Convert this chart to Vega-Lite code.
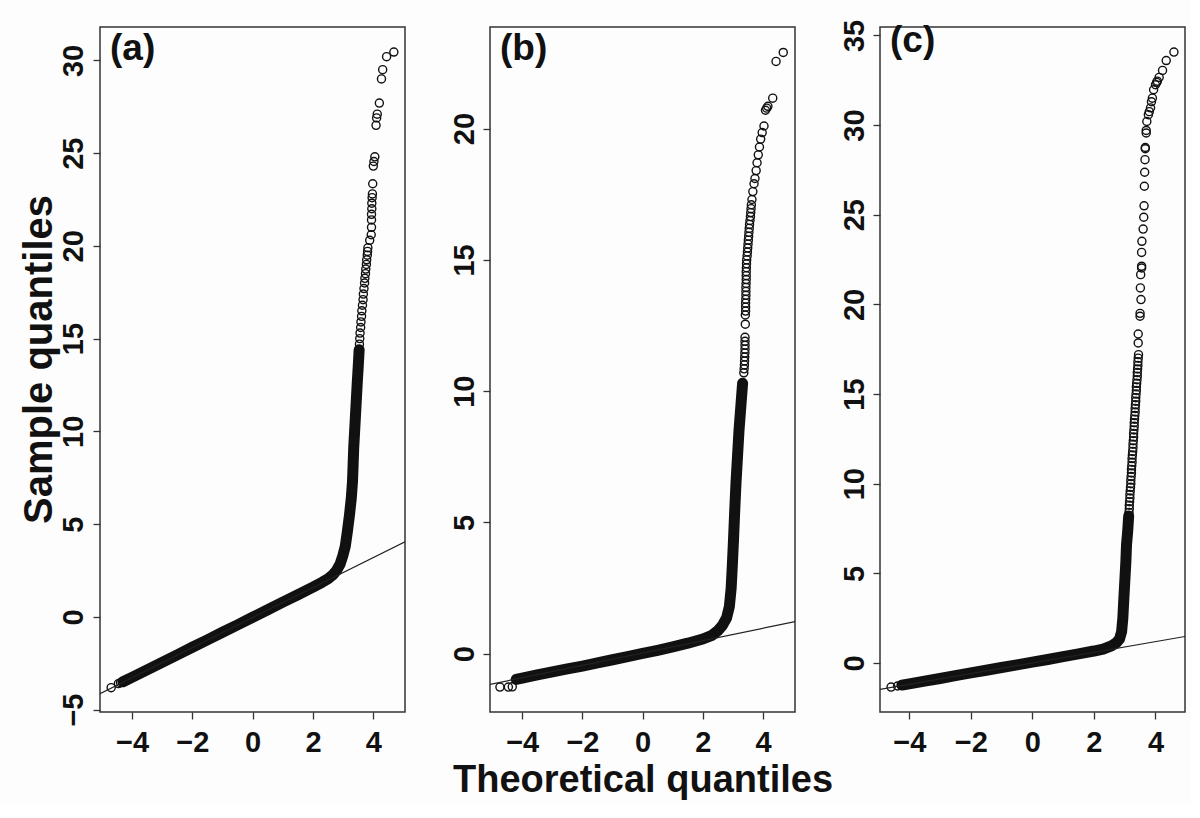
{
  "$schema": "https://vega.github.io/schema/vega-lite/v6.json",
  "background": "#fdfdfd",
  "padding": {"left": 18, "top": 18, "right": 5, "bottom": 5},
  "spacing": 85,
  "bounds": "flush",
  "config": {
    "view": {"stroke": "#333", "strokeWidth": 1.5},
    "axis": {
      "grid": false, "domain": false, "tickColor": "#333", "tickSize": 7, "tickWidth": 1.3,
      "labelFont": "Liberation Sans", "labelFontWeight": "bold", "labelFontSize": 29, "labelColor": "#111",
      "labelOverlap": false, "labelFlush": false,
      "titleFont": "Liberation Sans", "titleFontWeight": "bold", "titleColor": "#111"
    },
    "title": {"anchor": "start", "frame": "group", "offset": -41, "baseline": "alphabetic", "dx": 10, "fontSize": 37, "fontWeight": "bold", "font": "Liberation Sans", "color": "#111"}
  },
  "datasets": {
    "a": [
      {"x":-4.69,"y":-3.82,"b":0},{"x":-4.45,"y":-3.6,"b":0},{"x":-4.38,"y":-3.55,"b":0},
      {"x":-4.3,"y":-3.5,"b":1},{"x":-4.0,"y":-3.26,"b":1},{"x":-3.5,"y":-2.86,"b":1},{"x":-3.0,"y":-2.45,"b":1},{"x":-2.5,"y":-2.05,"b":1},{"x":-2.0,"y":-1.64,"b":1},{"x":-1.5,"y":-1.24,"b":1},{"x":-1.0,"y":-0.83,"b":1},{"x":-0.5,"y":-0.43,"b":1},{"x":0,"y":-0.02,"b":1},{"x":0.5,"y":0.38,"b":1},{"x":1.0,"y":0.79,"b":1},{"x":1.5,"y":1.19,"b":1},{"x":2.0,"y":1.6,"b":1},{"x":2.3,"y":1.86,"b":1},{"x":2.5,"y":2.05,"b":1},{"x":2.65,"y":2.25,"b":1},{"x":2.78,"y":2.5,"b":1},{"x":2.9,"y":2.85,"b":1},{"x":2.99,"y":3.3,"b":1},{"x":3.07,"y":3.8,"b":1},{"x":3.14,"y":4.6,"b":1},{"x":3.21,"y":5.5,"b":1},{"x":3.27,"y":6.4,"b":1},{"x":3.31,"y":7.3,"b":1},{"x":3.33,"y":8.2,"b":1},{"x":3.35,"y":9.1,"b":1},{"x":3.38,"y":10.0,"b":1},{"x":3.41,"y":10.9,"b":1},{"x":3.44,"y":11.8,"b":1},{"x":3.47,"y":12.7,"b":1},{"x":3.5,"y":13.5,"b":1},{"x":3.53,"y":14.4,"b":1},
      {"x":3.54,"y":14.7,"b":0},{"x":3.55,"y":15.0,"b":0},{"x":3.56,"y":15.3,"b":0},{"x":3.58,"y":15.6,"b":0},{"x":3.59,"y":15.9,"b":0},{"x":3.61,"y":16.2,"b":0},{"x":3.62,"y":16.5,"b":0},{"x":3.64,"y":16.8,"b":0},{"x":3.66,"y":17.1,"b":0},{"x":3.67,"y":17.4,"b":0},{"x":3.69,"y":17.7,"b":0},{"x":3.71,"y":18.0,"b":0},{"x":3.72,"y":18.25,"b":0},{"x":3.74,"y":18.5,"b":0},{"x":3.75,"y":18.75,"b":0},{"x":3.77,"y":19.0,"b":0},{"x":3.78,"y":19.25,"b":0},{"x":3.8,"y":19.5,"b":0},{"x":3.81,"y":19.7,"b":0},{"x":3.82,"y":19.9,"b":0},{"x":3.88,"y":20.3,"b":0},{"x":3.93,"y":20.6,"b":0},{"x":3.94,"y":21.0,"b":0},{"x":3.94,"y":21.4,"b":0},{"x":3.94,"y":21.7,"b":0},{"x":3.95,"y":22.0,"b":0},{"x":3.95,"y":22.3,"b":0},{"x":3.96,"y":22.6,"b":0},{"x":3.97,"y":22.8,"b":0},{"x":3.98,"y":23.35,"b":0},{"x":4.0,"y":24.3,"b":0},{"x":4.02,"y":24.55,"b":0},{"x":4.05,"y":24.8,"b":0},{"x":4.09,"y":26.5,"b":0},{"x":4.11,"y":26.9,"b":0},{"x":4.13,"y":27.1,"b":0},{"x":4.2,"y":27.7,"b":0},{"x":4.27,"y":29.0,"b":0},{"x":4.31,"y":29.5,"b":0},{"x":4.44,"y":30.2,"b":0},{"x":4.68,"y":30.45,"b":0}
    ],
    "b": [
      {"x":-4.74,"y":-1.27,"b":0},{"x":-4.46,"y":-1.27,"b":0},{"x":-4.33,"y":-1.26,"b":0},
      {"x":-4.2,"y":-0.98,"b":1},{"x":-4.0,"y":-0.93,"b":1},{"x":-3.5,"y":-0.81,"b":1},{"x":-3.0,"y":-0.69,"b":1},{"x":-2.5,"y":-0.58,"b":1},{"x":-2.0,"y":-0.47,"b":1},{"x":-1.5,"y":-0.35,"b":1},{"x":-1.0,"y":-0.23,"b":1},{"x":-0.5,"y":-0.11,"b":1},{"x":0,"y":0.01,"b":1},{"x":0.5,"y":0.13,"b":1},{"x":1.0,"y":0.26,"b":1},{"x":1.5,"y":0.4,"b":1},{"x":2.0,"y":0.56,"b":1},{"x":2.3,"y":0.7,"b":1},{"x":2.5,"y":0.88,"b":1},{"x":2.65,"y":1.08,"b":1},{"x":2.79,"y":1.37,"b":1},{"x":2.88,"y":1.8,"b":1},{"x":2.94,"y":2.5,"b":1},{"x":2.98,"y":3.4,"b":1},{"x":3.02,"y":4.4,"b":1},{"x":3.06,"y":5.5,"b":1},{"x":3.1,"y":6.5,"b":1},{"x":3.15,"y":7.5,"b":1},{"x":3.2,"y":8.5,"b":1},{"x":3.26,"y":9.4,"b":1},{"x":3.32,"y":10.3,"b":1},
      {"x":3.36,"y":10.7,"b":0},{"x":3.37,"y":10.85,"b":0},{"x":3.38,"y":11.0,"b":0},{"x":3.385,"y":11.15,"b":0},{"x":3.39,"y":11.3,"b":0},{"x":3.395,"y":11.45,"b":0},{"x":3.4,"y":11.6,"b":0},{"x":3.4,"y":11.75,"b":0},{"x":3.4,"y":11.9,"b":0},{"x":3.4,"y":12.05,"b":0},{"x":3.41,"y":12.55,"b":0},{"x":3.41,"y":12.9,"b":0},{"x":3.42,"y":13.05,"b":0},{"x":3.42,"y":13.2,"b":0},{"x":3.42,"y":13.35,"b":0},{"x":3.425,"y":13.5,"b":0},{"x":3.43,"y":13.65,"b":0},{"x":3.43,"y":13.8,"b":0},{"x":3.43,"y":13.95,"b":0},{"x":3.435,"y":14.1,"b":0},{"x":3.44,"y":14.25,"b":0},{"x":3.44,"y":14.4,"b":0},{"x":3.44,"y":14.55,"b":0},{"x":3.445,"y":14.7,"b":0},{"x":3.45,"y":14.85,"b":0},{"x":3.455,"y":15.0,"b":0},{"x":3.47,"y":15.15,"b":0},{"x":3.48,"y":15.3,"b":0},{"x":3.49,"y":15.45,"b":0},{"x":3.5,"y":15.6,"b":0},{"x":3.51,"y":15.75,"b":0},{"x":3.52,"y":15.9,"b":0},{"x":3.53,"y":16.05,"b":0},{"x":3.54,"y":16.2,"b":0},{"x":3.55,"y":16.35,"b":0},{"x":3.565,"y":16.5,"b":0},{"x":3.58,"y":16.65,"b":0},{"x":3.59,"y":16.8,"b":0},{"x":3.6,"y":16.95,"b":0},{"x":3.61,"y":17.1,"b":0},{"x":3.63,"y":17.3,"b":0},{"x":3.66,"y":17.6,"b":0},{"x":3.7,"y":17.9,"b":0},{"x":3.73,"y":18.1,"b":0},{"x":3.77,"y":18.4,"b":0},{"x":3.8,"y":18.7,"b":0},{"x":3.84,"y":19.0,"b":0},{"x":3.88,"y":19.3,"b":0},{"x":3.92,"y":19.6,"b":0},{"x":3.97,"y":19.85,"b":0},{"x":4.03,"y":20.1,"b":0},{"x":4.08,"y":20.7,"b":0},{"x":4.12,"y":20.78,"b":0},{"x":4.16,"y":20.85,"b":0},{"x":4.32,"y":21.16,"b":0},{"x":4.43,"y":22.56,"b":0},{"x":4.67,"y":22.9,"b":0}
    ],
    "c": [
      {"x":-4.59,"y":-1.34,"b":0},{"x":-4.38,"y":-1.28,"b":0},
      {"x":-4.24,"y":-1.23,"b":1},{"x":-4.0,"y":-1.16,"b":1},{"x":-3.5,"y":-1.01,"b":1},{"x":-3.0,"y":-0.86,"b":1},{"x":-2.5,"y":-0.7,"b":1},{"x":-2.0,"y":-0.55,"b":1},{"x":-1.5,"y":-0.4,"b":1},{"x":-1.0,"y":-0.25,"b":1},{"x":-0.5,"y":-0.1,"b":1},{"x":0,"y":0.05,"b":1},{"x":0.5,"y":0.2,"b":1},{"x":1.0,"y":0.36,"b":1},{"x":1.5,"y":0.51,"b":1},{"x":2.0,"y":0.67,"b":1},{"x":2.3,"y":0.78,"b":1},{"x":2.57,"y":0.96,"b":1},{"x":2.72,"y":1.12,"b":1},{"x":2.83,"y":1.33,"b":1},{"x":2.9,"y":1.75,"b":1},{"x":2.94,"y":2.5,"b":1},{"x":2.97,"y":3.5,"b":1},{"x":3.01,"y":4.75,"b":1},{"x":3.04,"y":5.7,"b":1},{"x":3.06,"y":6.6,"b":1},{"x":3.1,"y":7.4,"b":1},{"x":3.13,"y":8.2,"b":1},
      {"x":3.14,"y":8.4,"b":0},{"x":3.15,"y":8.6,"b":0},{"x":3.15,"y":8.8,"b":0},{"x":3.16,"y":9.0,"b":0},{"x":3.17,"y":9.2,"b":0},{"x":3.17,"y":9.4,"b":0},{"x":3.18,"y":9.6,"b":0},{"x":3.19,"y":9.8,"b":0},{"x":3.2,"y":10.0,"b":0},{"x":3.2,"y":10.2,"b":0},{"x":3.21,"y":10.4,"b":0},{"x":3.22,"y":10.6,"b":0},{"x":3.22,"y":10.8,"b":0},{"x":3.23,"y":11.0,"b":0},{"x":3.24,"y":11.2,"b":0},{"x":3.24,"y":11.4,"b":0},{"x":3.25,"y":11.6,"b":0},{"x":3.26,"y":11.8,"b":0},{"x":3.27,"y":12.0,"b":0},{"x":3.27,"y":12.2,"b":0},{"x":3.28,"y":12.4,"b":0},{"x":3.29,"y":12.6,"b":0},{"x":3.29,"y":12.8,"b":0},{"x":3.3,"y":13.0,"b":0},{"x":3.31,"y":13.2,"b":0},{"x":3.31,"y":13.4,"b":0},{"x":3.32,"y":13.6,"b":0},{"x":3.33,"y":13.8,"b":0},{"x":3.34,"y":14.0,"b":0},{"x":3.34,"y":14.2,"b":0},{"x":3.35,"y":14.4,"b":0},{"x":3.36,"y":14.6,"b":0},{"x":3.36,"y":14.8,"b":0},{"x":3.37,"y":15.0,"b":0},{"x":3.38,"y":15.2,"b":0},{"x":3.38,"y":15.4,"b":0},{"x":3.39,"y":15.6,"b":0},{"x":3.4,"y":15.8,"b":0},{"x":3.41,"y":16.0,"b":0},{"x":3.41,"y":16.2,"b":0},{"x":3.42,"y":16.4,"b":0},{"x":3.43,"y":16.6,"b":0},{"x":3.43,"y":16.8,"b":0},{"x":3.44,"y":17.0,"b":0},{"x":3.45,"y":17.2,"b":0},
      {"x":3.44,"y":17.85,"b":0},{"x":3.44,"y":18.35,"b":0},{"x":3.5,"y":19.34,"b":0},{"x":3.5,"y":19.5,"b":0},{"x":3.53,"y":20.27,"b":0},{"x":3.51,"y":20.92,"b":0},{"x":3.52,"y":21.66,"b":0},{"x":3.55,"y":22.03,"b":0},{"x":3.55,"y":22.13,"b":0},{"x":3.55,"y":22.9,"b":0},{"x":3.56,"y":23.52,"b":0},{"x":3.6,"y":24.2,"b":0},{"x":3.62,"y":24.86,"b":0},{"x":3.63,"y":25.5,"b":0},{"x":3.64,"y":26.59,"b":0},{"x":3.65,"y":27.37,"b":0},{"x":3.66,"y":28.07,"b":0},{"x":3.67,"y":28.68,"b":0},{"x":3.67,"y":28.75,"b":0},{"x":3.7,"y":29.56,"b":0},{"x":3.7,"y":29.7,"b":0},{"x":3.72,"y":30.2,"b":0},{"x":3.77,"y":30.58,"b":0},{"x":3.8,"y":30.75,"b":0},{"x":3.84,"y":30.96,"b":0},{"x":3.87,"y":31.3,"b":0},{"x":3.9,"y":31.5,"b":0},{"x":3.94,"y":31.97,"b":0},{"x":4.0,"y":32.25,"b":0},{"x":4.04,"y":32.38,"b":0},{"x":4.06,"y":32.45,"b":0},{"x":4.12,"y":32.66,"b":0},{"x":4.23,"y":33.05,"b":0},{"x":4.35,"y":33.6,"b":0},{"x":4.6,"y":34.07,"b":0}
    ],
    "ra": [{"x":-5.06,"y":-4.14},{"x":5.05,"y":4.05}],
    "rb": [{"x":-5.07,"y":-1.17},{"x":5.06,"y":1.22}],
    "rc": [{"x":-4.95,"y":-1.47},{"x":4.96,"y":1.48}]
  },
  "hconcat": [
    {
      "width": 305, "height": 685,
      "title": {"text": "(a)"},
      "encoding": {
        "x": {"field": "x", "type": "quantitative", "scale": {"domain": [-5.06, 5.05], "nice": false, "zero": false},
              "axis": {"values": [-4, -2, 0, 2, 4], "title": null, "labelBaseline": "top", "labelPadding": 9}},
        "y": {"field": "y", "type": "quantitative", "scale": {"domain": [-5.13, 31.8], "nice": false, "zero": false},
              "axis": {"values": [-5, 0, 5, 10, 15, 20, 25, 30], "labelAngle": 270, "labelAlign": "center", "labelBaseline": "alphabetic", "labelPadding": 11,
                       "title": "Sample quantiles", "titleFontSize": 40, "titleBaseline": "alphabetic", "titlePadding": 8, "titleY": 332}}
      },
      "layer": [
        {"data": {"name": "a"}, "transform": [{"filter": "datum.b == 1"}], "mark": {"type": "line", "color": "#111", "strokeWidth": 11, "strokeCap": "round", "strokeJoin": "round"}},
        {"data": {"name": "a"}, "mark": {"type": "point", "shape": "circle", "filled": false, "size": 65, "strokeWidth": 1.4, "color": "#111", "opacity": 1}},
        {"data": {"name": "ra"}, "mark": {"type": "line", "color": "#222", "strokeWidth": 1.2, "clip": true}}
      ]
    },
    {
      "width": 305, "height": 685,
      "title": {"text": "(b)"},
      "encoding": {
        "x": {"field": "x", "type": "quantitative", "scale": {"domain": [-5.07, 5.06], "nice": false, "zero": false},
              "axis": {"values": [-4, -2, 0, 2, 4], "title": "Theoretical quantiles", "titleFontSize": 38, "titlePadding": 4, "labelBaseline": "top", "labelPadding": 9}},
        "y": {"field": "y", "type": "quantitative", "scale": {"domain": [-2.22, 23.87], "nice": false, "zero": false},
              "axis": {"values": [0, 5, 10, 15, 20], "labelAngle": 270, "labelAlign": "center", "labelBaseline": "alphabetic", "labelPadding": 10, "title": null}}
      },
      "layer": [
        {"data": {"name": "b"}, "transform": [{"filter": "datum.b == 1"}], "mark": {"type": "line", "color": "#111", "strokeWidth": 11, "strokeCap": "round", "strokeJoin": "round"}},
        {"data": {"name": "b"}, "mark": {"type": "point", "shape": "circle", "filled": false, "size": 65, "strokeWidth": 1.4, "color": "#111", "opacity": 1}},
        {"data": {"name": "rb"}, "mark": {"type": "line", "color": "#222", "strokeWidth": 1.2, "clip": true}}
      ]
    },
    {
      "width": 305, "height": 685,
      "title": {"text": "(c)"},
      "encoding": {
        "x": {"field": "x", "type": "quantitative", "scale": {"domain": [-4.95, 4.96], "nice": false, "zero": false},
              "axis": {"values": [-4, -2, 0, 2, 4], "title": null, "labelBaseline": "top", "labelPadding": 9}},
        "y": {"field": "y", "type": "quantitative", "scale": {"domain": [-2.73, 35.47], "nice": false, "zero": false},
              "axis": {"values": [0, 5, 10, 15, 20, 25, 30, 35], "labelAngle": 270, "labelAlign": "center", "labelBaseline": "alphabetic", "labelPadding": 10, "title": null}}
      },
      "layer": [
        {"data": {"name": "c"}, "transform": [{"filter": "datum.b == 1"}], "mark": {"type": "line", "color": "#111", "strokeWidth": 11, "strokeCap": "round", "strokeJoin": "round"}},
        {"data": {"name": "c"}, "mark": {"type": "point", "shape": "circle", "filled": false, "size": 65, "strokeWidth": 1.4, "color": "#111", "opacity": 1}},
        {"data": {"name": "rc"}, "mark": {"type": "line", "color": "#222", "strokeWidth": 1.2, "clip": true}}
      ]
    }
  ]
}
